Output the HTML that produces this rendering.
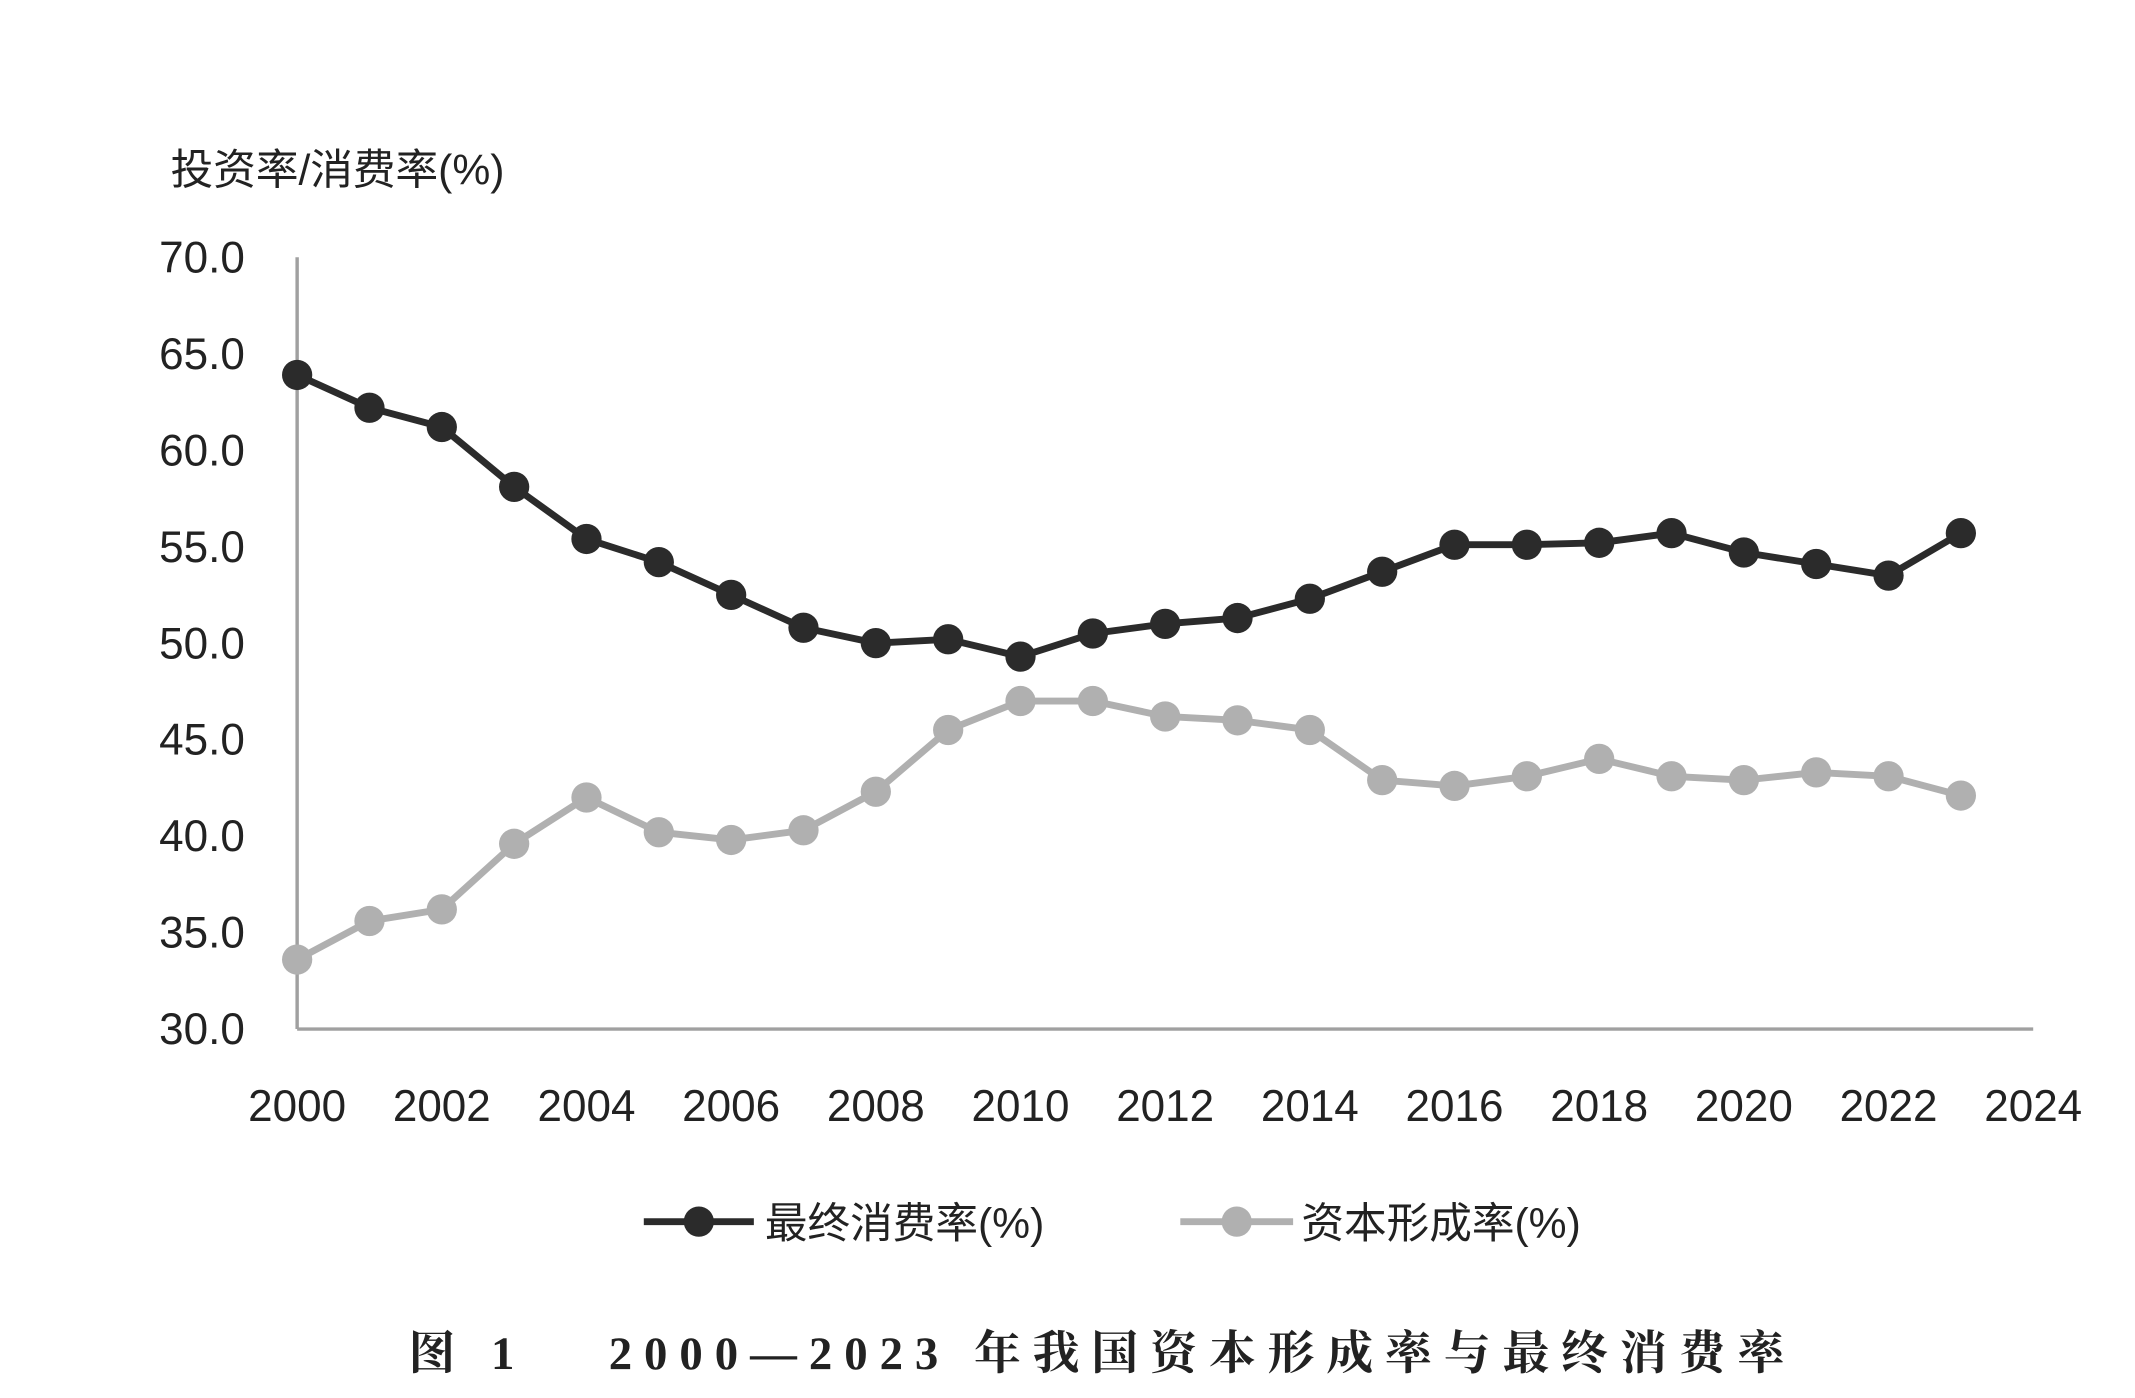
<!DOCTYPE html>
<html><head><meta charset="utf-8"><style>
html,body{margin:0;padding:0;background:#fff;}
svg{display:block;}
</style></head><body>
<svg id="chart" width="2135" height="1398" viewBox="0 0 1552 1016.2" preserveAspectRatio="none" xmlns="http://www.w3.org/2000/svg">
<text x="124" y="134" font-family="'Liberation Sans','Noto Sans CJK SC',sans-serif" font-size="31" fill="#222">投资率/消费率(%)</text>
<g id="yticks"></g><g id="xticks"></g>
<line x1="216" y1="187" x2="216" y2="748" stroke="#a0a0a0" stroke-width="2.5"/>
<line x1="216" y1="748" x2="1478" y2="748" stroke="#a0a0a0" stroke-width="2.5"/>
<g id="series"></g>
<g>
<g>
<line x1="468" y1="888" x2="548" y2="888" stroke="#2b2b2b" stroke-width="5"/>
<circle cx="508" cy="888" r="11" fill="#2b2b2b"/>
<text x="556" y="900" font-family="'Liberation Sans','Noto Sans CJK SC',sans-serif" font-size="31" fill="#222">最终消费率(%)</text></g>
<g>
<line x1="858" y1="888" x2="940" y2="888" stroke="#b0b0b0" stroke-width="5"/>
<circle cx="899" cy="888" r="11" fill="#b0b0b0"/>
<text x="946" y="900" font-family="'Liberation Sans','Noto Sans CJK SC',sans-serif" font-size="31" fill="#222">资本形成率(%)</text></g>
</g>
<text x="297" y="995" font-family="'Liberation Serif','Noto Serif CJK SC',serif" font-size="34" font-weight="bold" fill="#222" textLength="1000" lengthAdjust="spacing">图 1　 2000—2023 年我国资本形成率与最终消费率</text>
</svg>
<script>
const years=[2000,2001,2002,2003,2004,2005,2006,2007,2008,2009,2010,2011,2012,2013,2014,2015,2016,2017,2018,2019,2020,2021,2022,2023];
const consumption=[63.9,62.2,61.2,58.1,55.4,54.2,52.5,50.8,50.0,50.2,49.3,50.5,51.0,51.3,52.3,53.7,55.1,55.1,55.2,55.7,54.7,54.1,53.5,55.7];
const capital=[33.6,35.6,36.2,39.6,42.0,40.2,39.8,40.3,42.3,45.5,47.0,47.0,46.2,46.0,45.5,42.9,42.6,43.1,44.0,43.1,42.9,43.3,43.1,42.1];
const yTicks=["30.0","35.0","40.0","45.0","50.0","55.0","60.0","65.0","70.0"];
const xTicks=["2000","2002","2004","2006","2008","2010","2012","2014","2016","2018","2020","2022","2024"];
const NS="http://www.w3.org/2000/svg";
const xs=y=>216+(y-2000)*(1478-216)/24;
const ys=v=>748-(v-30)*(748-187)/40;
const FONT="'Liberation Sans','DejaVu Sans',sans-serif";
const yg=document.getElementById('yticks');
yTicks.forEach(t=>{const e=document.createElementNS(NS,'text');


e.setAttribute('x',178);e.setAttribute('y',ys(+t)+11);e.setAttribute('text-anchor','end');
e.setAttribute('font-family',FONT);e.setAttribute('font-size','32');e.setAttribute('fill','#222');
e.textContent=t;yg.appendChild(e);});
const xg=document.getElementById('xticks');
xTicks.forEach(t=>{const e=document.createElementNS(NS,'text');


e.setAttribute('x',xs(+t));e.setAttribute('y',815);e.setAttribute('text-anchor','middle');
e.setAttribute('font-family',FONT);e.setAttribute('font-size','32');e.setAttribute('fill','#222');
e.textContent=t;xg.appendChild(e);});
const sg=document.getElementById('series');
function draw(vals,color,name){
 const p=document.createElementNS(NS,'polyline');
 
 
 p.setAttribute('points',vals.map((v,i)=>xs(years[i])+','+ys(v)).join(' '));
 p.setAttribute('fill','none');p.setAttribute('stroke',color);p.setAttribute('stroke-width','5');p.setAttribute('stroke-linejoin','round');
 sg.appendChild(p);
 vals.forEach((v,i)=>{const c=document.createElementNS(NS,'circle');
 
 
 c.setAttribute('cx',xs(years[i]));c.setAttribute('cy',ys(v));c.setAttribute('r','11');c.setAttribute('fill',color);
 sg.appendChild(c);});
}
draw(capital,'#b0b0b0','capital-formation');
draw(consumption,'#2b2b2b','final-consumption');
</script>
</body></html>
